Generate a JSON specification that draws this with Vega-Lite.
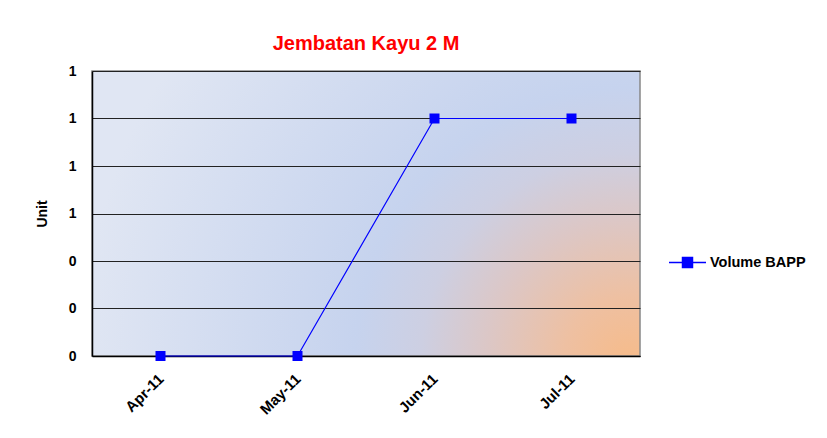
{
  "$schema": "https://vega.github.io/schema/vega-lite/v6.json",
  "width": 548,
  "height": 285,
  "autosize": {"type": "none"},
  "padding": {"left": 92, "top": 71, "right": 187, "bottom": 82},
  "background": "white",
  "title": {
    "text": "Jembatan Kayu 2 M",
    "color": "#FF0000",
    "font": "Liberation Sans",
    "fontSize": 20,
    "fontWeight": "bold",
    "anchor": "middle",
    "offset": 10
  },
  "view": {
    "fill": {
      "gradient": "radial",
      "x1": 0.98, "y1": 0.77, "r1": 0,
      "x2": 0.98, "y2": 0.77, "r2": 1.0,
      "stops": [
        {"offset": 0, "color": "#f6bb8a"},
        {"offset": 0.12, "color": "#eec0a2"},
        {"offset": 0.26, "color": "#dcc7c6"},
        {"offset": 0.38, "color": "#cdcfe2"},
        {"offset": 0.5, "color": "#c6d3ee"},
        {"offset": 1, "color": "#e0e6f3"}
      ]
    },
    "stroke": "#888888",
    "strokeWidth": 1.5
  },
  "data": {
    "values": [
      {"month": "Apr-11", "value": 0, "series": "Volume BAPP"},
      {"month": "May-11", "value": 0, "series": "Volume BAPP"},
      {"month": "Jun-11", "value": 1, "series": "Volume BAPP"},
      {"month": "Jul-11", "value": 1, "series": "Volume BAPP"}
    ]
  },
  "mark": {
    "type": "line",
    "strokeWidth": 1.2,
    "point": {"filled": true, "shape": "square", "size": 100, "opacity": 1}
  },
  "encoding": {
    "x": {
      "field": "month",
      "type": "ordinal",
      "sort": null,
      "scale": {"type": "point", "padding": 0.5},
      "axis": {
        "title": null,
        "labelAngle": -45,
        "labelAlign": "right",
        "labelBaseline": "middle",
        "labelPadding": 20,
        "labelFont": "Liberation Sans",
        "labelFontSize": 15,
        "labelFontWeight": "bold",
        "labelColor": "black",
        "ticks": false,
        "grid": false,
        "domainColor": "black",
        "domainWidth": 1.5
      }
    },
    "y": {
      "field": "value",
      "type": "quantitative",
      "scale": {"domain": [0, 1.2], "nice": false},
      "axis": {
        "title": "Unit",
        "titleFont": "Liberation Sans",
        "titleFontSize": 14,
        "titleFontWeight": "bold",
        "titleColor": "black",
        "titlePadding": 19,
        "values": [0, 0.2, 0.4, 0.6, 0.8, 1.0, 1.2],
        "format": ".0f",
        "labelFont": "Liberation Sans",
        "labelFontSize": 14,
        "labelFontWeight": "bold",
        "labelColor": "black",
        "labelPadding": 16,
        "ticks": false,
        "grid": true,
        "gridColor": "#222222",
        "gridWidth": 1,
        "domainColor": "black",
        "domainWidth": 1.5
      }
    },
    "color": {
      "field": "series",
      "type": "nominal",
      "scale": {"range": ["#0000FF"]},
      "legend": {
        "title": null,
        "orient": "none",
        "legendX": 576,
        "legendY": 172,
        "symbolType": "M-1,0H1M-0.27,-0.27H0.27V0.27H-0.27Z",
        "symbolSize": 1369,
        "symbolStrokeWidth": 1.5,
        "symbolFillColor": "#0000FF",
        "symbolStrokeColor": "#0000FF",
        "symbolOpacity": 1,
        "labelFont": "Liberation Sans",
        "labelFontSize": 14.5,
        "labelFontWeight": "bold",
        "labelColor": "black",
        "labelOffset": 3
      }
    }
  }
}
